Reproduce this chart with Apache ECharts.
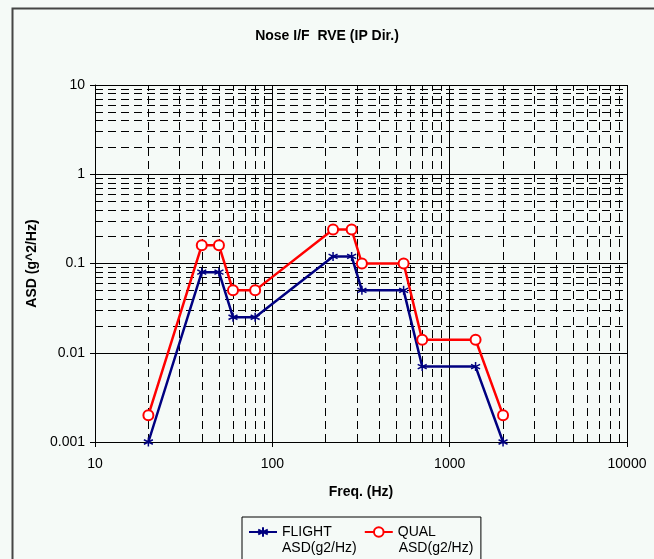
<!DOCTYPE html>
<html><head><meta charset="utf-8">
<script src="https://cdn.jsdelivr.net/npm/echarts@6/dist/echarts.min.js"></script>
<style>html,body{margin:0;padding:0;background:#f5faf7}#c{width:654px;height:559px}</style>
</head><body><div id="c"></div>
<script>
// ---- data ----
const titleText = 'Nose I/F  RVE (IP Dir.)';
const xName = 'Freq. (Hz)';
const yName = 'ASD (g^2/Hz)';
const freqHz = [20, 40, 50, 60, 80, 220, 280, 320, 550, 700, 1400, 2000];
const flightASD = [0.001, 0.08, 0.08, 0.025, 0.025, 0.12, 0.12, 0.05, 0.05, 0.007, 0.007, 0.001];
const qualASD = [0.002, 0.16, 0.16, 0.05, 0.05, 0.24, 0.24, 0.1, 0.1, 0.014, 0.014, 0.002];
const seriesNames = ['FLIGHT\nASD(g2/Hz)', 'QUAL\nASD(g2/Hz)'];
const xMinorGrid = [20,30,40,50,60,70,80,90,200,300,400,500,600,700,800,900,2000,3000,4000,5000,6000,7000,8000,9000];
const yMinorGrid = [0.002,0.003,0.004,0.005,0.006,0.007,0.008,0.009,0.02,0.03,0.04,0.05,0.06,0.07,0.08,0.09,0.2,0.3,0.4,0.5,0.6,0.7,0.8,0.9,2,3,4,5,6,7,8,9];

const FONT = "'Liberation Sans', Arial, sans-serif";
const chart = echarts.init(document.getElementById('c'), null, {renderer: 'canvas'});
const asterisk = 'path://M5,0L5,10M0.7,2.5L9.3,7.5M0.7,7.5L9.3,2.5';

const markLineData = xMinorGrid.map(v => ({xAxis: v})).concat(yMinorGrid.map(v => ({yAxis: v})));

chart.setOption({
  animation: false,
  backgroundColor: '#f5faf7',
  title: {
    text: titleText, left: 'center', top: 24,
    textStyle: {fontFamily: FONT, fontSize: 14, fontWeight: 'bold', color: '#000'}
  },
  graphic: [{
    type: 'rect', left: 10, top: 6, silent: true, z: -1,
    shape: {width: 700, height: 600},
    style: {fill: 'none', stroke: '#454545', lineWidth: 2}
  }],
  grid: {left: 95, right: 27, top: 85, bottom: 117, containLabel: false},
  legend: [{
    left: 242, top: 517,
    padding: [8, 45, 40, 6],
    borderColor: '#000', borderWidth: 1,
    itemWidth: 28, itemHeight: 12, itemGap: 32,
    formatter: n => n.split('\n')[0],
    textStyle: {fontFamily: FONT, fontSize: 14, color: '#000'},
    data: seriesNames
  }, {
    left: 242, top: 541,
    padding: [0, 10, 0, 6],
    itemWidth: 28, itemHeight: 12, itemGap: 8,
    icon: 'rect',
    itemStyle: {opacity: 0}, lineStyle: {opacity: 0},
    formatter: n => n.split('\n')[1],
    textStyle: {fontFamily: FONT, fontSize: 14, color: '#000'},
    data: seriesNames
  }],
  xAxis: {
    type: 'log', logBase: 10, min: 10, max: 10000,
    name: xName, nameLocation: 'middle', nameGap: 43,
    nameTextStyle: {fontFamily: FONT, fontSize: 14, fontWeight: 'bold', color: '#000'},
    axisLine: {lineStyle: {color: '#000', width: 1}},
    axisTick: {show: true, inside: false, length: 5, lineStyle: {color: '#000'}},
    axisLabel: {fontFamily: FONT, fontSize: 14, color: '#000', margin: 15,
      formatter: v => String(v)},
    splitLine: {show: true, lineStyle: {color: '#000', width: 1, type: 'solid'}}
  },
  yAxis: {
    type: 'log', logBase: 10, min: 0.001, max: 10,
    name: yName, nameLocation: 'middle', nameGap: 52, nameRotate: 90,
    nameTextStyle: {fontFamily: FONT, fontSize: 14, fontWeight: 'bold', color: '#000'},
    axisLine: {show: true, lineStyle: {color: '#000', width: 1}},
    axisTick: {show: true, inside: false, length: 5, lineStyle: {color: '#000'}},
    axisLabel: {fontFamily: FONT, fontSize: 14, color: '#000', margin: 10,
      formatter: v => String(v)},
    splitLine: {show: true, lineStyle: {color: '#000', width: 1, type: 'solid'}}
  },
  series: [{
    name: seriesNames[0], type: 'line', z: 3,
    data: freqHz.map((f, i) => [f, flightASD[i]]),
    symbol: asterisk, symbolSize: 9, showSymbol: true,
    lineStyle: {color: '#000080', width: 2.5},
    itemStyle: {color: '#000080', borderColor: '#000080', borderWidth: 1.5},
    emphasis: {disabled: true},
    markLine: {
      z: 1, silent: true, symbol: ['none', 'none'],
      label: {show: false}, emphasis: {disabled: true},
      lineStyle: {color: '#000', width: 1, type: [8, 5]},
      data: markLineData
    }
  }, {
    name: seriesNames[1], type: 'line', z: 4,
    data: freqHz.map((f, i) => [f, qualASD[i]]),
    symbol: 'emptyCircle', symbolSize: 10, showSymbol: true,
    lineStyle: {color: '#ff0000', width: 2.5},
    itemStyle: {color: '#ff0000', borderColor: '#ff0000', borderWidth: 1.5},
    emphasis: {disabled: true}
  }]
});
</script>
</body></html>
